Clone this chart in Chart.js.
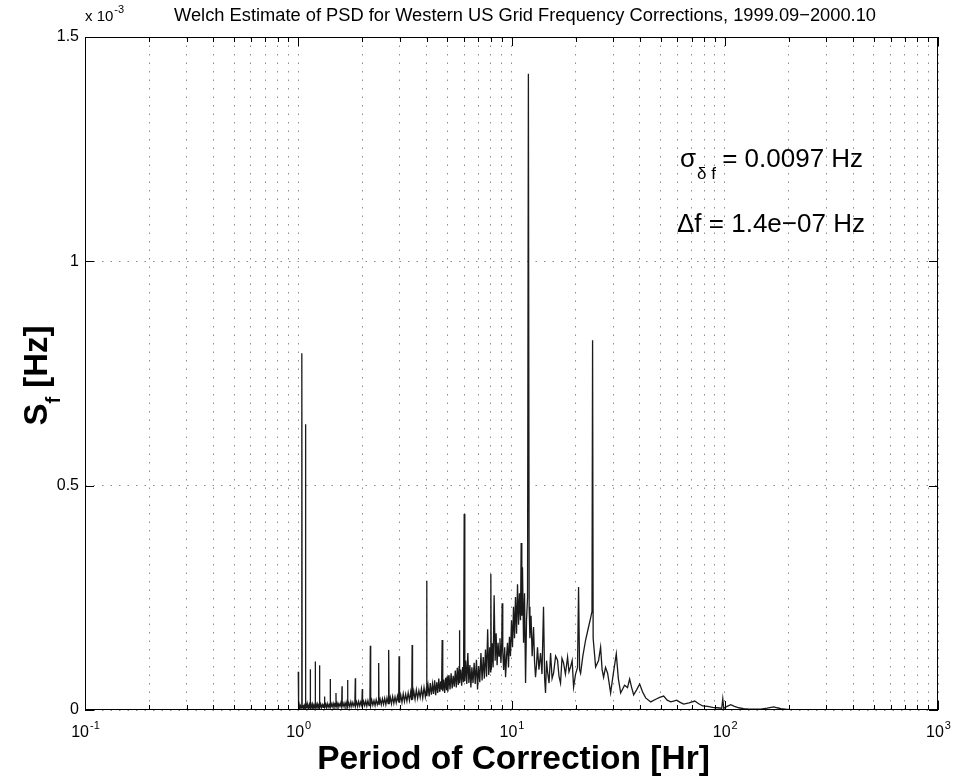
<!DOCTYPE html>
<html>
<head>
<meta charset="utf-8">
<title>Welch Estimate of PSD</title>
<script src="https://cdn.jsdelivr.net/npm/chart.js@4.4.1/dist/chart.umd.min.js"></script>
<style>
  html, body { margin: 0; padding: 0; background: #fff; }
  #wrap { width: 963px; height: 779px; }
</style>
</head>
<body>
<div id="wrap"><canvas id="psdChart" width="963" height="779"></canvas></div>
<script>
// PSD values are in units of 1e-3 Hz (the axis carries the "x 10^-3" factor)
// periods 1 - 4 hr
const periodShort = [
  1.000, 1.004, 1.011, 1.017, 1.024, 1.031, 1.037, 1.040, 1.041, 1.043,
  1.050, 1.058, 1.066, 1.073, 1.080, 1.082, 1.084, 1.092, 1.100, 1.108,
  1.117, 1.126, 1.134, 1.138, 1.139, 1.141, 1.150, 1.159, 1.168, 1.177,
  1.186, 1.196, 1.201, 1.202, 1.204, 1.214, 1.224, 1.234, 1.244, 1.253,
  1.259, 1.261, 1.272, 1.284, 1.296, 1.308, 1.318, 1.327, 1.329, 1.331,
  1.343, 1.355, 1.368, 1.381, 1.394, 1.405, 1.411, 1.413, 1.415, 1.428,
  1.442, 1.457, 1.471, 1.486, 1.498, 1.503, 1.506, 1.521, 1.536, 1.552,
  1.568, 1.584, 1.598, 1.604, 1.607, 1.623, 1.640, 1.657, 1.674, 1.690,
  1.700, 1.704, 1.708, 1.726, 1.745, 1.764, 1.783, 1.803, 1.823, 1.843,
  1.852, 1.857, 1.878, 1.899, 1.920, 1.942, 1.964, 1.986, 1.997, 2.003,
  2.026, 2.049, 2.073, 2.097, 2.122, 2.147, 2.168, 2.178, 2.186, 2.212,
  2.238, 2.265, 2.292, 2.320, 2.348, 2.372, 2.383, 2.392, 2.421, 2.451,
  2.481, 2.512, 2.543, 2.575, 2.607, 2.640, 2.655, 2.668, 2.702, 2.736,
  2.771, 2.807, 2.843, 2.880, 2.918, 2.956, 2.970, 2.985, 3.025, 3.065,
  3.106, 3.148, 3.190, 3.233, 3.277, 3.322, 3.367, 3.405, 3.420, 3.435,
  3.482, 3.530, 3.579, 3.629, 3.679, 3.730, 3.782, 3.835, 3.889, 3.944,
  3.985,
];
const psdShort = [
  0.085, 0.004, 0.011, 0.003, 0.009, 0.004, 0.012, 0.005, 0.795, 0.006,
  0.011, 0.003, 0.010, 0.005, 0.012, 0.637, 0.004, 0.012, 0.005, 0.011,
  0.004, 0.012, 0.005, 0.010, 0.091, 0.004, 0.012, 0.005, 0.013, 0.004,
  0.011, 0.005, 0.010, 0.108, 0.005, 0.012, 0.004, 0.013, 0.006, 0.012,
  0.100, 0.005, 0.013, 0.005, 0.012, 0.006, 0.014, 0.006, 0.030, 0.007,
  0.013, 0.005, 0.014, 0.006, 0.012, 0.007, 0.013, 0.069, 0.006, 0.014,
  0.007, 0.015, 0.006, 0.013, 0.008, 0.038, 0.007, 0.015, 0.006, 0.014,
  0.008, 0.016, 0.007, 0.053, 0.009, 0.015, 0.007, 0.016, 0.008, 0.017,
  0.009, 0.067, 0.008, 0.016, 0.007, 0.018, 0.008, 0.017, 0.009, 0.016,
  0.071, 0.009, 0.018, 0.008, 0.019, 0.009, 0.018, 0.010, 0.047, 0.009,
  0.019, 0.010, 0.020, 0.009, 0.021, 0.010, 0.019, 0.143, 0.010, 0.022,
  0.011, 0.021, 0.010, 0.023, 0.012, 0.020, 0.105, 0.011, 0.024, 0.012,
  0.025, 0.013, 0.026, 0.012, 0.027, 0.014, 0.134, 0.013, 0.028, 0.014,
  0.030, 0.015, 0.029, 0.016, 0.031, 0.017, 0.120, 0.016, 0.033, 0.017,
  0.036, 0.019, 0.035, 0.020, 0.038, 0.021, 0.040, 0.022, 0.145, 0.023,
  0.042, 0.024, 0.045, 0.026, 0.043, 0.028, 0.048, 0.027, 0.050, 0.030,
  0.046,
];

// periods 4 - 12 hr
const periodMid = [
  4.000, 4.015, 4.060, 4.110, 4.160, 4.210, 4.260, 4.310, 4.360, 4.410,
  4.460, 4.510, 4.560, 4.610, 4.660, 4.700, 4.730, 4.760, 4.810, 4.860,
  4.910, 4.960, 4.990, 5.030, 5.090, 5.150, 5.210, 5.270, 5.330, 5.390,
  5.450, 5.510, 5.570, 5.630, 5.680, 5.700, 5.720, 5.780, 5.840, 5.900,
  5.960, 6.000, 6.040, 6.100, 6.170, 6.240, 6.310, 6.380, 6.450, 6.520,
  6.600, 6.680, 6.760, 6.850, 6.930, 7.010, 7.100, 7.190, 7.280, 7.370,
  7.460, 7.550, 7.640, 7.730, 7.820, 7.910, 7.970, 8.000, 8.040, 8.120,
  8.200, 8.290, 8.380, 8.470, 8.560, 8.650, 8.740, 8.830, 8.920, 9.000,
  9.040, 9.100, 9.190, 9.290, 9.380, 9.480, 9.580, 9.680, 9.780, 9.890,
  10.00, 10.11, 10.22, 10.33, 10.44, 10.56, 10.67, 10.79, 10.90, 11.02,
  11.10, 11.18, 11.26, 11.39, 11.51, 11.64, 11.76, 11.89,
];
const psdMid = [
  0.288, 0.031, 0.055, 0.030, 0.060, 0.034, 0.058, 0.036, 0.066, 0.033,
  0.062, 0.038, 0.070, 0.040, 0.064, 0.045, 0.156, 0.042, 0.068, 0.038,
  0.072, 0.044, 0.075, 0.041, 0.078, 0.046, 0.082, 0.048, 0.076, 0.052,
  0.088, 0.050, 0.094, 0.056, 0.098, 0.178, 0.060, 0.090, 0.054, 0.096,
  0.062, 0.437, 0.064, 0.110, 0.058, 0.127, 0.060, 0.100, 0.050, 0.095,
  0.060, 0.105, 0.058, 0.112, 0.046, 0.098, 0.062, 0.127, 0.066, 0.118,
  0.070, 0.135, 0.074, 0.180, 0.078, 0.140, 0.085, 0.303, 0.090, 0.149,
  0.095, 0.256, 0.110, 0.171, 0.100, 0.150, 0.120, 0.160, 0.105, 0.150,
  0.238, 0.130, 0.089, 0.140, 0.073, 0.120, 0.150, 0.095, 0.163, 0.120,
  0.200, 0.140, 0.230, 0.160, 0.252, 0.170, 0.280, 0.190, 0.260, 0.200,
  0.372, 0.210, 0.318, 0.150, 0.260, 0.060, 0.200, 0.250,
];

// periods 12 hr and longer
const periodLong = [
  12.00, 12.10, 12.20, 12.35, 12.50, 12.69, 12.82, 12.96, 13.10, 13.24,
  13.45, 13.68, 13.90, 14.13, 14.30, 14.44, 14.60, 14.76, 15.00, 15.25,
  15.50, 15.75, 16.10, 16.44, 16.70, 16.98, 17.25, 17.54, 17.90, 18.32,
  18.60, 18.92, 19.25, 19.55, 19.97, 20.40, 20.63, 20.86, 21.09, 21.60,
  22.26, 22.98, 23.49, 23.85, 24.00, 24.15, 24.80, 25.60, 26.17, 26.60,
  27.03, 27.60, 28.23, 28.70, 29.16, 30.00, 31.00, 31.70, 32.50, 33.90,
  35.00, 35.81, 36.60, 37.39, 38.60, 39.90, 41.20, 42.57, 44.96, 47.50,
  49.50, 51.72, 53.70, 55.79, 57.60, 59.53, 61.80, 64.19, 68.00, 72.30,
  75.50, 78.82, 83.00, 87.82, 92.00, 96.80, 97.90, 98.90, 102.5, 106.7,
  111.0, 116.3, 122.5, 129.6, 138.0, 147.6, 158.0, 169.8, 176.0, 183.2,
  199.7, 222.6,
];
const psdLong = [
  1.418, 0.230, 0.160, 0.210, 0.120, 0.185, 0.110, 0.073, 0.100, 0.140,
  0.090, 0.127, 0.080, 0.230, 0.070, 0.038, 0.110, 0.085, 0.060, 0.127,
  0.070, 0.082, 0.120, 0.111, 0.075, 0.060, 0.115, 0.105, 0.080, 0.118,
  0.085, 0.096, 0.110, 0.051, 0.080, 0.095, 0.274, 0.090, 0.082, 0.120,
  0.156, 0.185, 0.205, 0.220, 0.824, 0.160, 0.096, 0.110, 0.140, 0.090,
  0.073, 0.095, 0.082, 0.060, 0.038, 0.080, 0.125, 0.070, 0.038, 0.055,
  0.050, 0.069, 0.050, 0.034, 0.045, 0.058, 0.040, 0.027, 0.018, 0.024,
  0.028, 0.031, 0.022, 0.018, 0.020, 0.022, 0.017, 0.013, 0.016, 0.020,
  0.014, 0.009, 0.008, 0.006, 0.005, 0.004, 0.025, 0.004, 0.008, 0.012,
  0.008, 0.005, 0.003, 0.002, 0.002, 0.002, 0.004, 0.007, 0.005, 0.003,
  0.001, 0.001,
];

// axes
const xDecadeExponents = [-1, 0, 1, 2, 3];
const xMinorSteps = [2, 3, 4, 5, 6, 7, 8, 9];
const yTicks = [0, 0.5, 1, 1.5];
const yTickLabels = ["0", "0.5", "1", "1.5"];

const titleText = "Welch Estimate of PSD for Western US Grid Frequency Corrections, 1999.09\u22122000.10";
const xTitleText = "Period of Correction [Hr]";
const sigmaValueText = " = 0.0097 Hz";
const deltaText = "\u0394f = 1.4e\u221207 Hz";

const FONT = '"Liberation Sans", Arial, Helvetica, sans-serif';

function buildXGridValues() {
  const values = [];
  xDecadeExponents.forEach((exp) => {
    const base = Math.pow(10, exp);
    values.push(base);
    if (exp < xDecadeExponents[xDecadeExponents.length - 1]) {
      xMinorSteps.forEach((step) => values.push(step * base));
    }
  });
  return values;
}

const xGridValues = buildXGridValues();
const decadeValues = xDecadeExponents.map((exp) => Math.pow(10, exp));

function toPoints(periods, values) {
  return periods.map((period, i) => ({ x: period, y: values[i] }));
}

const psdPoints = [
  ...toPoints(periodShort, psdShort),
  ...toPoints(periodMid, psdMid),
  ...toPoints(periodLong, psdLong),
];

function isDecade(value) {
  return decadeValues.some((d) => Math.abs(d - value) / d < 1e-9);
}

const matlabFrame = {
  id: "matlabFrame",
  afterDatasetsDraw(chart) {
    const { ctx, chartArea: a, scales: { x, y } } = chart;
    ctx.save();

    // box + inward ticks
    ctx.strokeStyle = "#000";
    ctx.lineWidth = 1;
    ctx.setLineDash([]);
    ctx.strokeRect(a.left + 0.5, a.top + 0.5, a.right - a.left - 1, a.bottom - a.top - 1);
    ctx.beginPath();
    xGridValues.forEach((value) => {
      const px = Math.round(x.getPixelForValue(value)) + 0.5;
      const len = isDecade(value) ? 9 : 5;
      ctx.moveTo(px, a.bottom);
      ctx.lineTo(px, a.bottom - len);
      ctx.moveTo(px, a.top);
      ctx.lineTo(px, a.top + len);
    });
    yTicks.forEach((value) => {
      const py = Math.round(y.getPixelForValue(value)) + 0.5;
      ctx.moveTo(a.left, py);
      ctx.lineTo(a.left + 9, py);
      ctx.moveTo(a.right, py);
      ctx.lineTo(a.right - 9, py);
    });
    ctx.stroke();

    ctx.fillStyle = "#000";

    // y tick labels
    ctx.font = `16px ${FONT}`;
    ctx.textAlign = "right";
    ctx.textBaseline = "middle";
    yTicks.forEach((value, i) => {
      ctx.fillText(yTickLabels[i], a.left - 6, y.getPixelForValue(value));
    });

    // x tick labels 10^n
    ctx.textAlign = "left";
    ctx.textBaseline = "alphabetic";
    xDecadeExponents.forEach((exp) => {
      const px = x.getPixelForValue(Math.pow(10, exp));
      ctx.font = `16px ${FONT}`;
      const baseWidth = ctx.measureText("10").width;
      ctx.font = `11px ${FONT}`;
      const expText = String(exp);
      const expWidth = ctx.measureText(expText).width;
      const start = px - (baseWidth + expWidth) / 2;
      ctx.font = `16px ${FONT}`;
      ctx.fillText("10", start, a.bottom + 27);
      ctx.font = `11px ${FONT}`;
      ctx.fillText(expText, start + baseWidth + 1, a.bottom + 19);
    });

    // exponent factor above y axis
    ctx.font = `15px ${FONT}`;
    ctx.fillText("x 10", a.left, 21);
    const factorWidth = ctx.measureText("x 10").width;
    ctx.font = `11px ${FONT}`;
    ctx.fillText("-3", a.left + factorWidth + 1, 13);

    // title
    ctx.font = `18.3px ${FONT}`;
    ctx.textAlign = "center";
    ctx.fillText(titleText, 525, 21);

    // x axis title
    ctx.font = `bold 33.5px ${FONT}`;
    ctx.fillText(xTitleText, (a.left + a.right) / 2 + 2, 769);

    // y axis title: S_f [Hz]
    ctx.save();
    ctx.translate(47, (a.top + a.bottom) / 2);
    ctx.rotate(-Math.PI / 2);
    ctx.textAlign = "left";
    ctx.font = `bold 33px ${FONT}`;
    const sWidth = ctx.measureText("S").width;
    const restWidth = ctx.measureText(" [Hz]").width;
    ctx.font = `bold 20px ${FONT}`;
    const subWidth = ctx.measureText("f").width;
    const total = sWidth + subWidth + restWidth;
    let cursor = -total / 2 - 2;
    ctx.font = `bold 33px ${FONT}`;
    ctx.fillText("S", cursor, 0);
    cursor += sWidth;
    ctx.font = `bold 20px ${FONT}`;
    ctx.fillText("f", cursor, 13);
    cursor += subWidth;
    ctx.font = `bold 33px ${FONT}`;
    ctx.fillText(" [Hz]", cursor, 0);
    ctx.restore();

    // annotations
    ctx.textAlign = "left";
    ctx.font = `26px ${FONT}`;
    ctx.fillText("\u03C3", 680, 167);
    const sigmaWidth = ctx.measureText("\u03C3").width;
    ctx.font = `17px ${FONT}`;
    ctx.fillText("\u03B4 f", 680 + sigmaWidth + 1, 179);
    const subSigmaWidth = ctx.measureText("\u03B4 f").width;
    ctx.font = `26px ${FONT}`;
    ctx.fillText(sigmaValueText, 680 + sigmaWidth + subSigmaWidth, 167);
    ctx.fillText(deltaText, 677, 232);

    ctx.restore();
  },
};

new Chart(document.getElementById("psdChart"), {
  type: "line",
  data: {
    datasets: [
      {
        label: "PSD",
        data: psdPoints,
        borderColor: "#1a1a1a",
        borderWidth: 1.3,
        pointRadius: 0,
        tension: 0,
        fill: false,
      },
    ],
  },
  options: {
    responsive: false,
    devicePixelRatio: 1,
    animation: false,
    events: [],
    layout: { padding: { left: 85, right: 25, top: 37, bottom: 69 } },
    plugins: {
      legend: { display: false },
      tooltip: { enabled: false },
      title: { display: false },
    },
    scales: {
      x: {
        type: "logarithmic",
        min: 0.1,
        max: 1000,
        afterBuildTicks: (scale) => {
          scale.ticks = xGridValues.map((value) => ({ value, major: isDecade(value) }));
        },
        ticks: { display: false },
        grid: { color: "rgba(0,0,0,0.45)", lineWidth: 1, drawTicks: false },
        border: { display: false, dash: [1.5, 7] },
      },
      y: {
        type: "linear",
        min: 0,
        max: 1.5,
        afterBuildTicks: (scale) => {
          scale.ticks = yTicks.map((value) => ({ value }));
        },
        ticks: { display: false },
        grid: { color: "rgba(0,0,0,0.45)", lineWidth: 1, drawTicks: false },
        border: { display: false, dash: [1.5, 7] },
      },
    },
  },
  plugins: [matlabFrame],
});
</script>
</body>
</html>
